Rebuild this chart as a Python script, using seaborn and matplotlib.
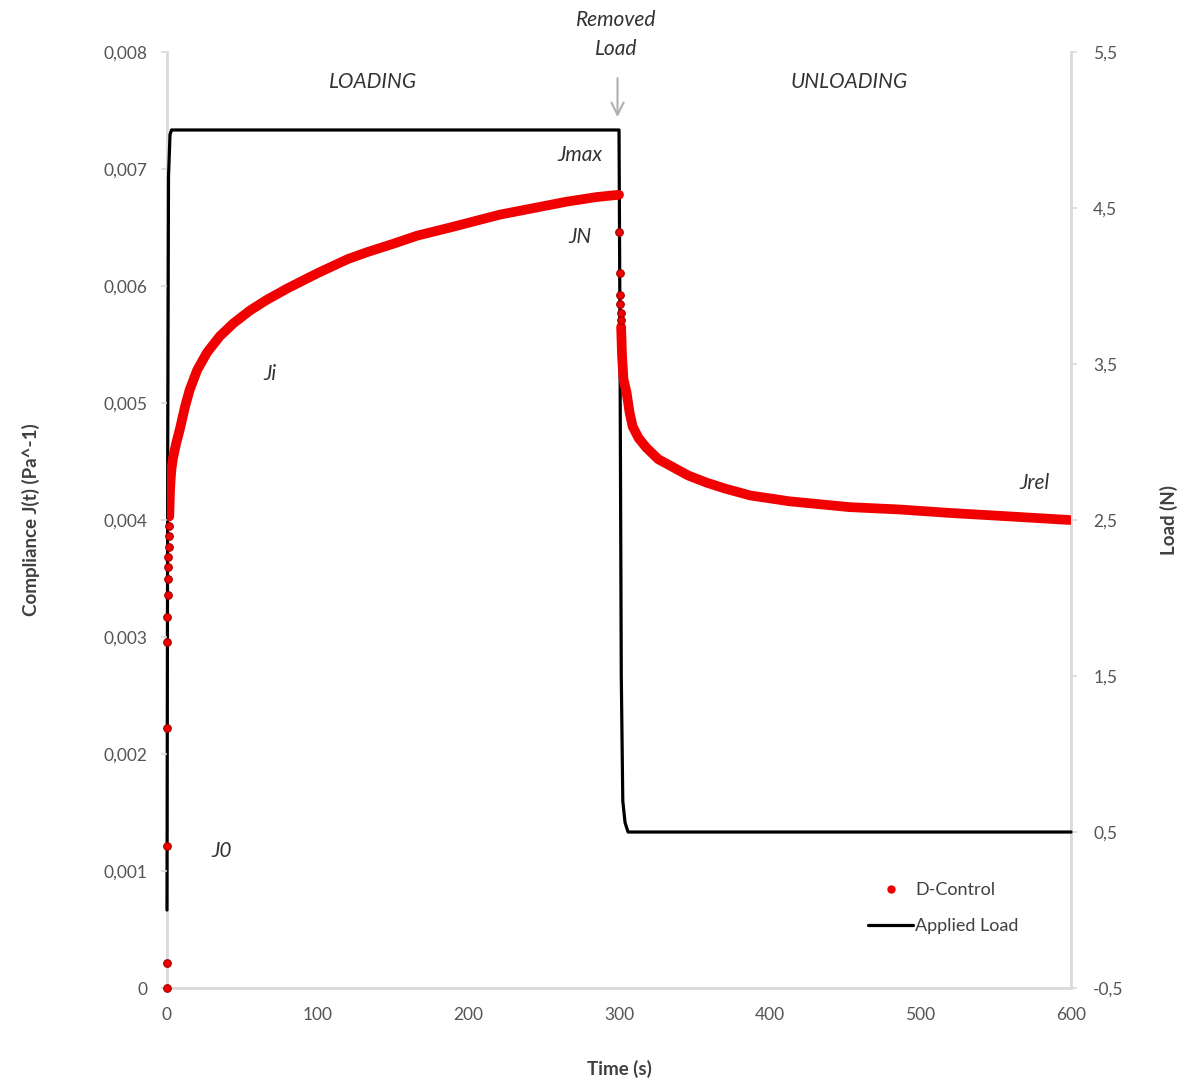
import pandas as pd
import matplotlib.pyplot as plt
import seaborn as sns
from matplotlib.lines import Line2D
from matplotlib.ticker import FuncFormatter, MultipleLocator

sns.set_theme(style='white')
plt.rcParams['font.family'] = ['Lato', 'DejaVu Sans']

# Instantaneous jump at t = 0 (separate dots)
jump_t = [0, 0, 0, 0, 0, 0.3, 0.5, 0.7, 0.8, 0.9, 1.0, 1.1, 1.2]
jump_J = [0, 0.00021, 0.00121, 0.00222, 0.00296, 0.00317, 0.00336,
          0.0035, 0.0036, 0.00368, 0.00377, 0.00386, 0.00395]

# Creep under load (dense points)
creep_t = [1.5, 2, 2.5, 3, 4, 5, 6, 8.6, 12, 15, 20, 26.5, 35, 44, 55, 66,
           80, 100, 120, 133, 150, 166, 188, 200, 221, 245, 265, 285, 300]
creep_J = [0.00403, 0.00425, 0.00436, 0.00444, 0.00453, 0.00459, 0.00465,
           0.00478, 0.00497, 0.00511, 0.00528, 0.00543, 0.00557, 0.00568,
           0.00579, 0.00588, 0.00598, 0.00611, 0.00623, 0.00629, 0.00636,
           0.00643, 0.0065, 0.00654, 0.00661, 0.00667, 0.00672, 0.00676,
           0.00678]

# Instantaneous recovery at t = 300 (separate dots)
drop_t = [300.2, 300.4, 300.6, 300.8, 301.0, 301.2]
drop_J = [0.00646, 0.00611, 0.00592, 0.00585, 0.00577, 0.00571]

# Recovery after unloading (dense points)
recov_t = [301.4, 302, 303, 305, 307, 309, 313, 318, 326, 336, 346, 358, 370,
           387, 413, 453, 486, 520, 560, 599]
recov_J = [0.00565, 0.0054, 0.0052, 0.00509, 0.00492, 0.0048, 0.0047,
           0.00462, 0.00452, 0.00445, 0.00438, 0.00432, 0.00427, 0.00421,
           0.00416, 0.00411, 0.00409, 0.00406, 0.00403, 0.004]

# Applied load
load_t = [0, 0.5, 1, 2, 3, 300, 300.5, 301.5, 302.5, 304, 306, 600]
load_N = [0, 3.0, 4.7, 4.97, 5.0, 5.0, 4.0, 1.5, 0.7, 0.56, 0.5, 0.5]

creep = pd.DataFrame({'t': creep_t, 'J': creep_J})
recov = pd.DataFrame({'t': recov_t, 'J': recov_J})
dots = pd.DataFrame({'t': jump_t + drop_t, 'J': jump_J + drop_J})
load = pd.DataFrame({'t': load_t, 'N': load_N})

red = '#f00000'
grey = '#d9d9d9'
txt = '#404040'

fig = plt.figure(figsize=(11.81, 10.83), dpi=100)
ax = fig.add_axes([0.1414, 0.0877, 0.7655, 0.8643])
ax2 = ax.twinx()

sns.lineplot(data=load, x='t', y='N', ax=ax2, color='black', lw=2.3,
             zorder=3, clip_on=False)

sns.lineplot(data=creep, x='t', y='J', ax=ax, color=red, lw=7,
             solid_capstyle='round')
sns.lineplot(data=recov, x='t', y='J', ax=ax, color=red, lw=7,
             solid_capstyle='round')
sns.scatterplot(data=dots, x='t', y='J', ax=ax, color=red, s=30,
                edgecolor='#a00000', linewidth=0.8, zorder=5, clip_on=False)

ax.set_zorder(ax2.get_zorder() + 1)
ax.patch.set_visible(False)

ax.set_xlim(0, 600)
ax.set_ylim(0, 0.008)
ax2.set_ylim(-0.5, 5.5)
ax.xaxis.set_major_locator(MultipleLocator(100))
ax.yaxis.set_major_locator(MultipleLocator(0.001))
ax2.set_yticks([-0.5, 0.5, 1.5, 2.5, 3.5, 4.5, 5.5])

def comma(v, pos):
    s = f'{v:.3f}'.rstrip('0').rstrip('.') if abs(v) > 1e-12 else '0'
    return s.replace('.', ',')

ax.yaxis.set_major_formatter(FuncFormatter(comma))
ax2.yaxis.set_major_formatter(FuncFormatter(lambda v, p: f'{v:.1f}'.replace('.', ',')))

for a in (ax, ax2):
    a.spines['top'].set_visible(False)
    for side in ('left', 'right', 'bottom'):
        a.spines[side].set_color(grey)
        a.spines[side].set_linewidth(2)
    a.tick_params(colors=txt, labelsize=12.5, length=4, width=1.2, color=grey,
                  direction='out')
    for lab in a.get_xticklabels() + a.get_yticklabels():
        lab.set_color('#555555')
# the left spine sits on the lower axes so the load line shows over it
ax.spines['right'].set_visible(False)
ax.spines['left'].set_visible(False)
ax2.spines['bottom'].set_visible(False)
ax2.spines['left'].set_zorder(1)
ax.tick_params(axis='y', pad=10)
ax2.tick_params(axis='y', pad=12)
ax.tick_params(axis='x', pad=10)

ax.set_xlabel('Time (s)', fontsize=13.5, fontweight='bold', color=txt,
              labelpad=26)
ax.set_ylabel('Compliance J(t) (Pa^-1)', fontsize=13.5, fontweight='bold',
              color=txt, labelpad=46)
ax2.set_ylabel('Load (N)', fontsize=13.5, fontweight='bold', color=txt,
               labelpad=26)

# annotations
note = dict(fontsize=15, style='italic', color='#333333', ha='center',
            va='center')
ax.text(137, 0.00774, 'LOADING', **note)
ax.text(453, 0.00774, 'UNLOADING', **note)
ax.text(274, 0.00712, 'Jmax', **note)
ax.text(274, 0.00642, 'JN', **note)
ax.text(68, 0.00525, 'Ji', **note)
ax.text(36, 0.00117, 'J0', **note)
ax.text(576, 0.00432, 'Jrel', **note)
ax.text(298, 0.00815, 'Removed\nLoad', linespacing=1.6, clip_on=False, **note)
ax.annotate('', xy=(299, 0.00742), xytext=(299, 0.00780),
            arrowprops=dict(arrowstyle='->', color='#b0b0b0', lw=1.5,
                            mutation_scale=22))

handles = [Line2D([], [], ls='none', marker='o', ms=5, color=red,
                  label='D-Control'),
           Line2D([], [], color='black', lw=2.3, label='Applied Load')]
leg = ax.legend(handles=handles, loc='lower right', frameon=False,
                bbox_to_anchor=(0.96, 0.04), fontsize=13, handlelength=2.5,
                handletextpad=0.1, labelspacing=1.1)
for t in leg.get_texts():
    t.set_color(txt)

plt.savefig('out.png', dpi=100)
